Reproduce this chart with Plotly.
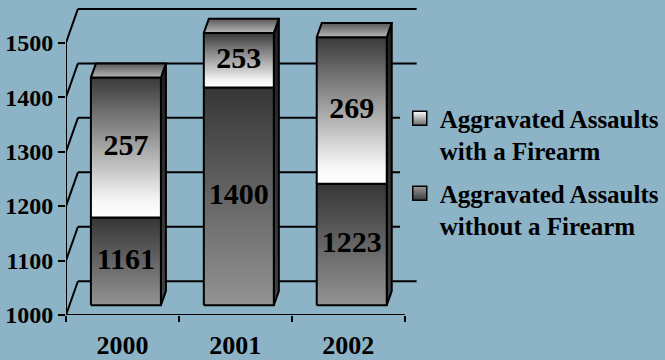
import plotly.graph_objects as go

# ---- data -------------------------------------------------------------
years = ["2000", "2001", "2002"]
with_firearm = [257, 253, 269]
without_firearm = [1161, 1400, 1223]
y_ticks = [1000, 1100, 1200, 1300, 1400, 1500]

# ---- style / geometry -------------------------------------------------
BG = "#8DB3C7"
FONT = "Liberation Serif"
Y_MIN, Y_MAX = 1000, 1500
PX_PER_X = 113.67          # pixels per category unit
PX_PER_Y = 0.548           # pixels per value unit
PLOT_W, PLOT_H = 599, 317
DX = 12 / PX_PER_X         # full depth of the box, x component
DY = 34 / PX_PER_Y         # full depth of the box, y component
F1, F2 = 0.29, 0.71        # front / back depth of the bars
HALF_W = 0.31              # half bar width
LINE = dict(color="black", width=2)

fig = go.Figure()

# back wall grid lines + left wall diagonals
for t in y_ticks:
    fig.add_shape(type="line", x0=-0.5, y0=t, x1=-0.5 + DX, y1=t + DY,
                  line=LINE, layer="below")
    fig.add_shape(type="line", x0=-0.5 + DX, y0=t + DY, x1=2.5 + DX, y1=t + DY,
                  line=LINE, layer="below")
# front axis lines
fig.add_shape(type="line", x0=-0.5, y0=Y_MIN, x1=-0.5, y1=Y_MAX, line=LINE)
fig.add_shape(type="line", x0=-0.5, y0=Y_MIN, x1=2.5, y1=Y_MIN, line=LINE)


def face(xs, ys, scale):
    fig.add_trace(go.Scatter(
        x=xs + [xs[0]], y=ys + [ys[0]], mode="lines", fill="toself",
        line=LINE, fillgradient=dict(type="vertical", colorscale=scale),
        hoverinfo="skip", showlegend=False))


WITH_SCALE = [[0, "#ffffff"], [0.12, "#f6f6f6"], [1, "#3a3a3a"]]
WITHOUT_SCALE = [[0, "#939393"], [1, "#363636"]]
TOP_SCALE = [[0, "#b8b8b8"], [1, "#585858"]]
SIDE_SCALE = [[0, "#444444"], [1, "#1e1e1e"]]

lab_x, lab_y, lab_t = [], [], []
for i, yr in enumerate(years):
    base = without_firearm[i]
    total = base + with_firearm[i]
    segs = [(Y_MIN, base, WITHOUT_SCALE, base),
            (base, total, WITH_SCALE, with_firearm[i])]
    x0 = i - HALF_W + F1 * DX
    x1 = i + HALF_W + F1 * DX
    ddx = (F2 - F1) * DX
    ddy = (F2 - F1) * DY
    top = min(total, Y_MAX) + F1 * DY
    bot = Y_MIN + F1 * DY
    # side face
    face([x1, x1, x1 + ddx, x1 + ddx], [bot, top, top + ddy, bot + ddy], SIDE_SCALE)
    # front faces of the stacked segments
    for lo, hi, scale, val in segs:
        lo_c, hi_c = max(lo, Y_MIN), min(hi, Y_MAX)
        if hi_c <= lo_c:
            continue
        face([x0, x1, x1, x0],
             [lo_c + F1 * DY, lo_c + F1 * DY, hi_c + F1 * DY, hi_c + F1 * DY], scale)
        lab_x.append(i + F1 * DX)
        lab_y.append((lo_c + hi_c) / 2 + F1 * DY)
        lab_t.append(str(val))
    # top face
    face([x0, x1, x1 + ddx, x0 + ddx], [top, top, top + ddy, top + ddy], TOP_SCALE)

fig.add_trace(go.Scatter(
    x=lab_x, y=lab_y, text=lab_t, mode="text", cliponaxis=False,
    textfont=dict(family=FONT, size=30, color="black", weight="bold"),
    hoverinfo="skip", showlegend=False))

# legend entries
fig.add_trace(go.Scatter(
    x=[None], y=[None], mode="markers", name="Aggravated Assaults<br>with a Firearm",
    legendgroup="a",
    marker=dict(symbol="square", size=14, color="#ffffff",
                gradient=dict(type="vertical", color="#6a6a6a"),
                line=dict(color="black", width=1.5))))
fig.add_trace(go.Scatter(
    x=[None], y=[None], mode="markers", name="Aggravated Assaults<br>without a Firearm",
    legendgroup="b",
    marker=dict(symbol="square", size=14, color="#9a9a9a",
                gradient=dict(type="vertical", color="#3a3a3a"),
                line=dict(color="black", width=1.5))))

fig.update_layout(
    width=665, height=360,
    margin=dict(l=66, r=0, t=0, b=43),
    paper_bgcolor=BG, plot_bgcolor=BG,
    font=dict(family=FONT, color="black", size=24, weight="bold"),
    showlegend=True,
    legend=dict(x=(402 - 66) / PLOT_W, y=1 - 96 / PLOT_H, xanchor="left", yanchor="top",
                bgcolor=BG, valign="top", tracegroupgap=7, traceorder="grouped",
                font=dict(family=FONT, size=25, color="black", weight="bold")),
    xaxis=dict(range=[-0.5, -0.5 + PLOT_W / PX_PER_X], showgrid=False, zeroline=False,
               showline=False, tickmode="array", tickvals=[0, 1, 2], ticktext=years,
               ticks="", tickfont=dict(size=26), ticklabelstandoff=12,
               minor=dict(tickmode="array", tickvals=[-0.5, 0.5, 1.5, 2.5],
                          ticks="outside", ticklen=6, tickwidth=2, tickcolor="black",
                          showgrid=False)),
    yaxis=dict(range=[Y_MIN, Y_MIN + PLOT_H / PX_PER_Y], showgrid=False, zeroline=False,
               showline=False, tickmode="array", tickvals=y_ticks,
               ticks="outside", ticklen=7, tickwidth=2, tickcolor="black",
               tickfont=dict(size=24)),
)

fig.write_html("out.html")
